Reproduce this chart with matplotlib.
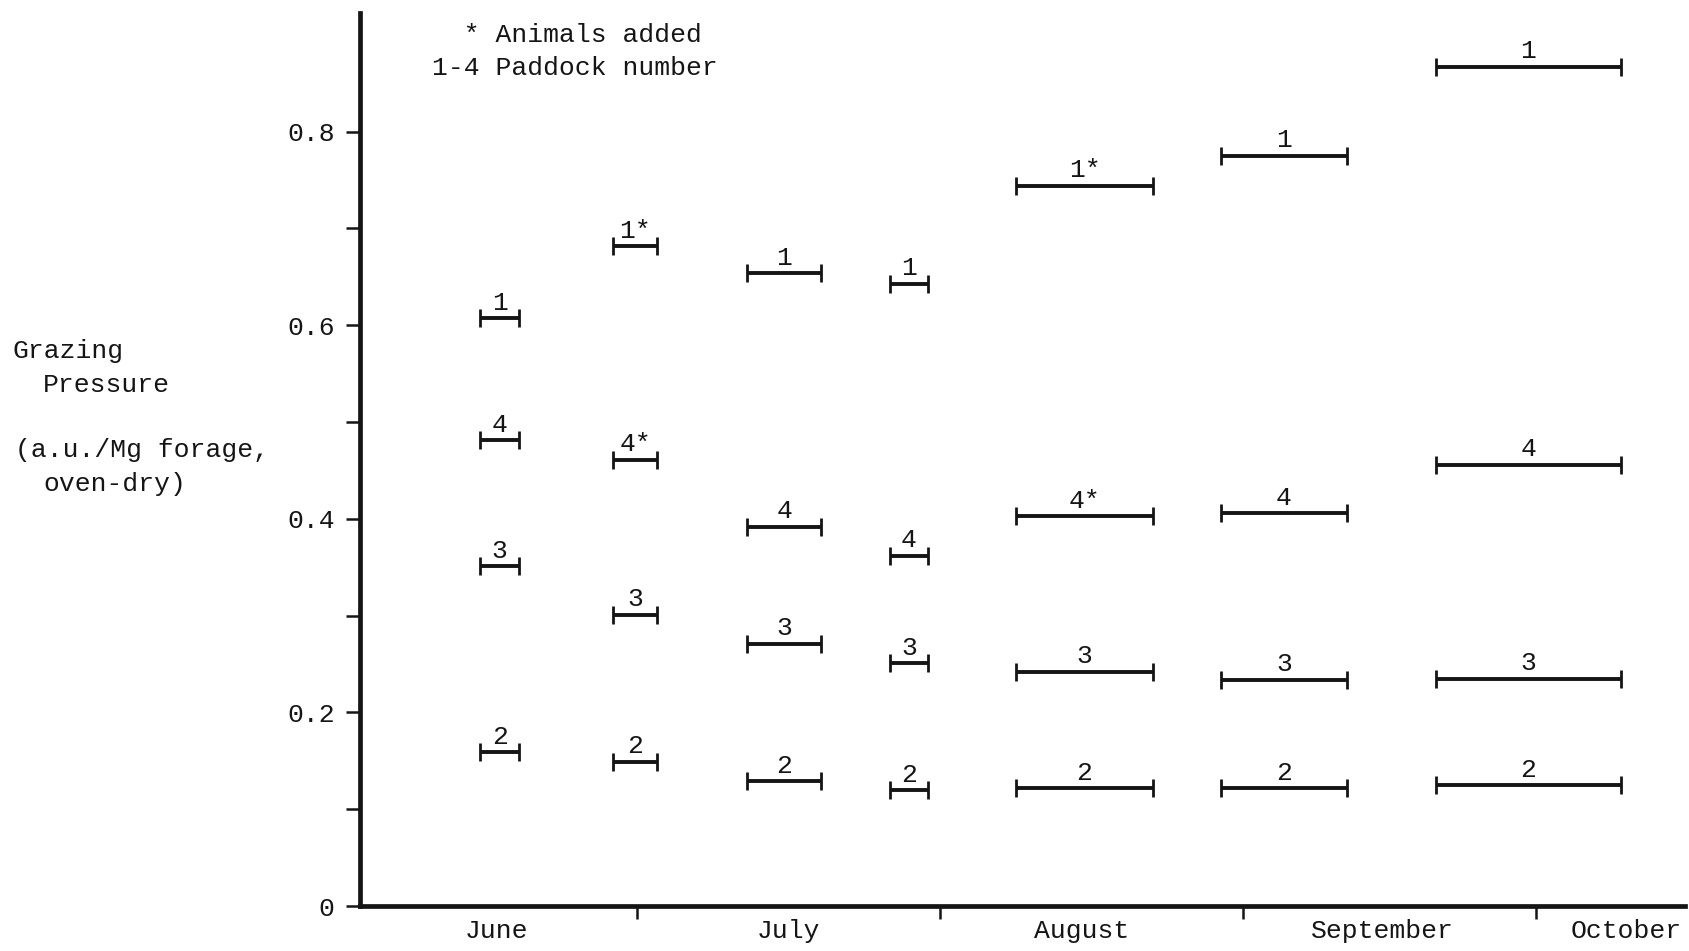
import matplotlib
matplotlib.use("Agg")
import matplotlib.pyplot as plt

# ------------------------------------ Data ----------------------------------
# grazing periods, as days after 1 June
period_start = [14.0, 27.6, 41.3, 55.9, 68.8, 89.8, 111.7]
period_end = [18.0, 32.1, 48.9, 59.8, 82.8, 102.6, 130.7]

# grazing pressure (a.u./Mg forage, oven-dry) per paddock and period
paddock_1 = [0.607, 0.682, 0.654, 0.643, 0.744, 0.775, 0.867]
paddock_2 = [0.159, 0.149, 0.129, 0.120, 0.122, 0.122, 0.125]
paddock_3 = [0.351, 0.301, 0.271, 0.251, 0.242, 0.234, 0.235]
paddock_4 = [0.481, 0.461, 0.392, 0.362, 0.403, 0.406, 0.456]

# periods (index) where animals were added
added_1 = [1, 4]
added_2 = []
added_3 = []
added_4 = [1, 4]

month_names = ["June", "July", "August", "September", "October"]
month_label_days = [15.7, 45.5, 75.5, 106.3, 131.2]
month_bounds = [30, 61, 92, 122]

y_ticks = [0, 0.1, 0.2, 0.3, 0.4, 0.5, 0.6, 0.7, 0.8]
y_tick_labels = ["0", "", "0.2", "", "0.4", "", "0.6", "", "0.8"]

# ------------------------------------ Style ----------------------------------
FONT = ["Liberation Mono", "DejaVu Sans Mono"]
plt.rcParams["font.family"] = FONT
plt.rcParams["font.size"] = 19
INK = "#151515"

fig = plt.figure(figsize=(16.9, 9.51), dpi=100)
ax = fig.add_axes([0.2128, 0.0473, 0.7842, 0.939])

centers = [(s + e) / 2 for s, e in zip(period_start, period_end)]
halves = [(e - s) / 2 for s, e in zip(period_start, period_end)]

paddocks = [
    ("1", paddock_1, added_1),
    ("2", paddock_2, added_2),
    ("3", paddock_3, added_3),
    ("4", paddock_4, added_4),
]

for name, values, added in paddocks:
    ax.errorbar(centers, values, xerr=halves, fmt="none", ecolor=INK,
                elinewidth=2.8, capsize=6.5, capthick=2.0)
    for i, (cx, v) in enumerate(zip(centers, values)):
        label = name + ("*" if i in added else "")
        ax.annotate(label, (cx, v), xytext=(0, 6), textcoords="offset points",
                    ha="center", va="baseline", fontsize=19, color=INK)

# ------------------------------------ Axes ----------------------------------
ax.set_xlim(1.67, 137.2)
ax.set_ylim(0, 0.9225)

for side in ["top", "right"]:
    ax.spines[side].set_visible(False)
for side in ["left", "bottom"]:
    ax.spines[side].set_linewidth(3.4)
    ax.spines[side].set_color(INK)

ax.set_yticks(y_ticks)
ax.set_yticklabels(y_tick_labels)
ax.tick_params(axis="y", direction="out", length=10, width=1.8, pad=8,
               colors=INK, labelsize=19)

ax.set_xticks(month_bounds)
ax.set_xticklabels([""] * len(month_bounds))
ax.tick_params(axis="x", which="major", direction="out", length=9.5, width=1.8,
               colors=INK)
ax.set_xticks(month_label_days, minor=True)
ax.set_xticklabels(month_names, minor=True)
ax.tick_params(axis="x", which="minor", length=0, pad=9, labelsize=19,
               colors=INK)

# y label, as typed lines
H = 951.0
ylabel_lines = [
    (13, 351, "Grazing"),
    (43, 385, "Pressure"),
    (15, 450, "(a.u./Mg forage,"),
    (43, 484, "oven-dry)"),
]
for px, py, txt in ylabel_lines:
    fig.text(px / 1690, 1 - py / H, txt, ha="left", va="center", color=INK,
             fontsize=19)

# key
fig.text(432 / 1690, 1 - 35 / H, "  * Animals added", ha="left", va="center",
         color=INK, fontsize=19)
fig.text(432 / 1690, 1 - 68 / H, "1-4 Paddock number", ha="left", va="center",
         color=INK, fontsize=19)

fig.savefig("out.png", dpi=100, facecolor="white")
